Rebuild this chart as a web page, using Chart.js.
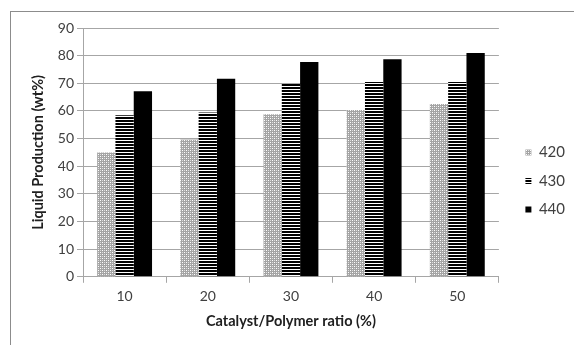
<!DOCTYPE html>
<html>
<head>
<meta charset="utf-8">
<script src="https://cdn.jsdelivr.net/npm/chart.js@4"></script>
<style>
body{margin:0;background:#fff;}
#wrap{position:relative;width:574px;height:345px;overflow:hidden;}
#frame{position:absolute;left:10px;top:11px;width:620px;height:400px;border-top:1px solid #8c8c8c;border-left:1px solid #8c8c8c;}
#c{position:absolute;left:0;top:0;}
</style>
</head>
<body>
<div id="wrap"><div id="frame"></div><canvas id="c" width="574" height="345"></canvas></div>
<script>
// data
const ratios = ['10', '20', '30', '40', '50'];
const seriesNames = ['420', '430', '440'];
const liquid420 = [45, 49.7, 58.8, 60.3, 62.5];
const liquid430 = [58.4, 59.4, 69.7, 70.5, 70.5];
const liquid440 = [67.1, 71.6, 77.7, 78.7, 81.0];

// fill patterns like the old excel b/w print
function makePattern(w, h, draw){
    const c = document.createElement('canvas');
    c.width = w; c.height = h;
    const g = c.getContext('2d');
    draw(g);
    return g.createPattern(c, 'repeat');
}

const dotted = makePattern(4, 4, function(g){
    g.fillStyle = '#a4a4a4';
    g.fillRect(0,0,4,4);
    g.fillStyle = '#ffffff';
    g.fillRect(0,0,1,1);
    g.fillRect(2,2,1,1);
    g.fillStyle = '#dcdcdc';
    g.fillRect(2,0,1,1);
    g.fillRect(0,2,1,1);
});
const striped = makePattern(4, 3, function(g){
    g.fillStyle = '#ffffff';
    g.fillRect(0,0,4,3);
    g.fillStyle = '#000000';
    g.fillRect(0,0,4,2);
});

const gridGray = '#a6a6a6';
const fontFam = 'Lato, "Liberation Sans", sans-serif';

// push the legend a bit to the right without moving the plot
const legendNudge = {
    id: 'legendNudge',
    afterLayout(chart){
        if (chart.legend) { chart.legend.left += 13; chart.legend.right += 13; }
    }
};

const chart = new Chart(document.getElementById('c'), {
    type: 'bar',
    data: {
        labels: ratios,
        datasets: [
            {label: seriesNames[0], data: liquid420, backgroundColor: dotted},
            {label: seriesNames[1], data: liquid430, backgroundColor: striped},
            {label: seriesNames[2], data: liquid440, backgroundColor: '#000000'}
        ]
    },
    plugins: [legendNudge],
    options: {
        responsive: false,
        animation: false,
        layout: {padding: {top: 28, bottom: 11, left: 10, right: 12}},
        datasets: {bar: {categoryPercentage: 0.66, barPercentage: 1.0}},
        plugins: {
            tooltip: {enabled: false},
            legend: {
                position: 'right',
                labels: {
                    boxWidth: 6, boxHeight: 6, padding: 13.5,
                    color: '#404040',
                    font: {family: fontFam, size: 15}
                }
            }
        },
        scales: {
            x: {
                grid: {display: true, drawOnChartArea: false, tickLength: 6, color: gridGray},
                border: {color: gridGray},
                ticks: {color: '#404040', font: {family: fontFam, size: 14}, padding: 5},
                title: {display: true, text: 'Catalyst/Polymer ratio (%)', color: '#202020',
                        font: {family: fontFam, size: 14.5, weight: 'bold'}, padding: {top: 3}}
            },
            y: {
                min: 0, max: 90,
                afterFit(scale){ scale.width = 73; },
                grid: {color: gridGray, tickLength: 6},
                border: {color: gridGray},
                ticks: {stepSize: 10, color: '#404040', font: {family: fontFam, size: 14}, padding: 3},
                title: {display: true, text: 'Liquid Production (wt%)', color: '#202020',
                        font: {family: fontFam, size: 14.5, weight: 'bold'}, padding: {top: 20, bottom: 0}}
            }
        }
    }
});
</script>
</body>
</html>
